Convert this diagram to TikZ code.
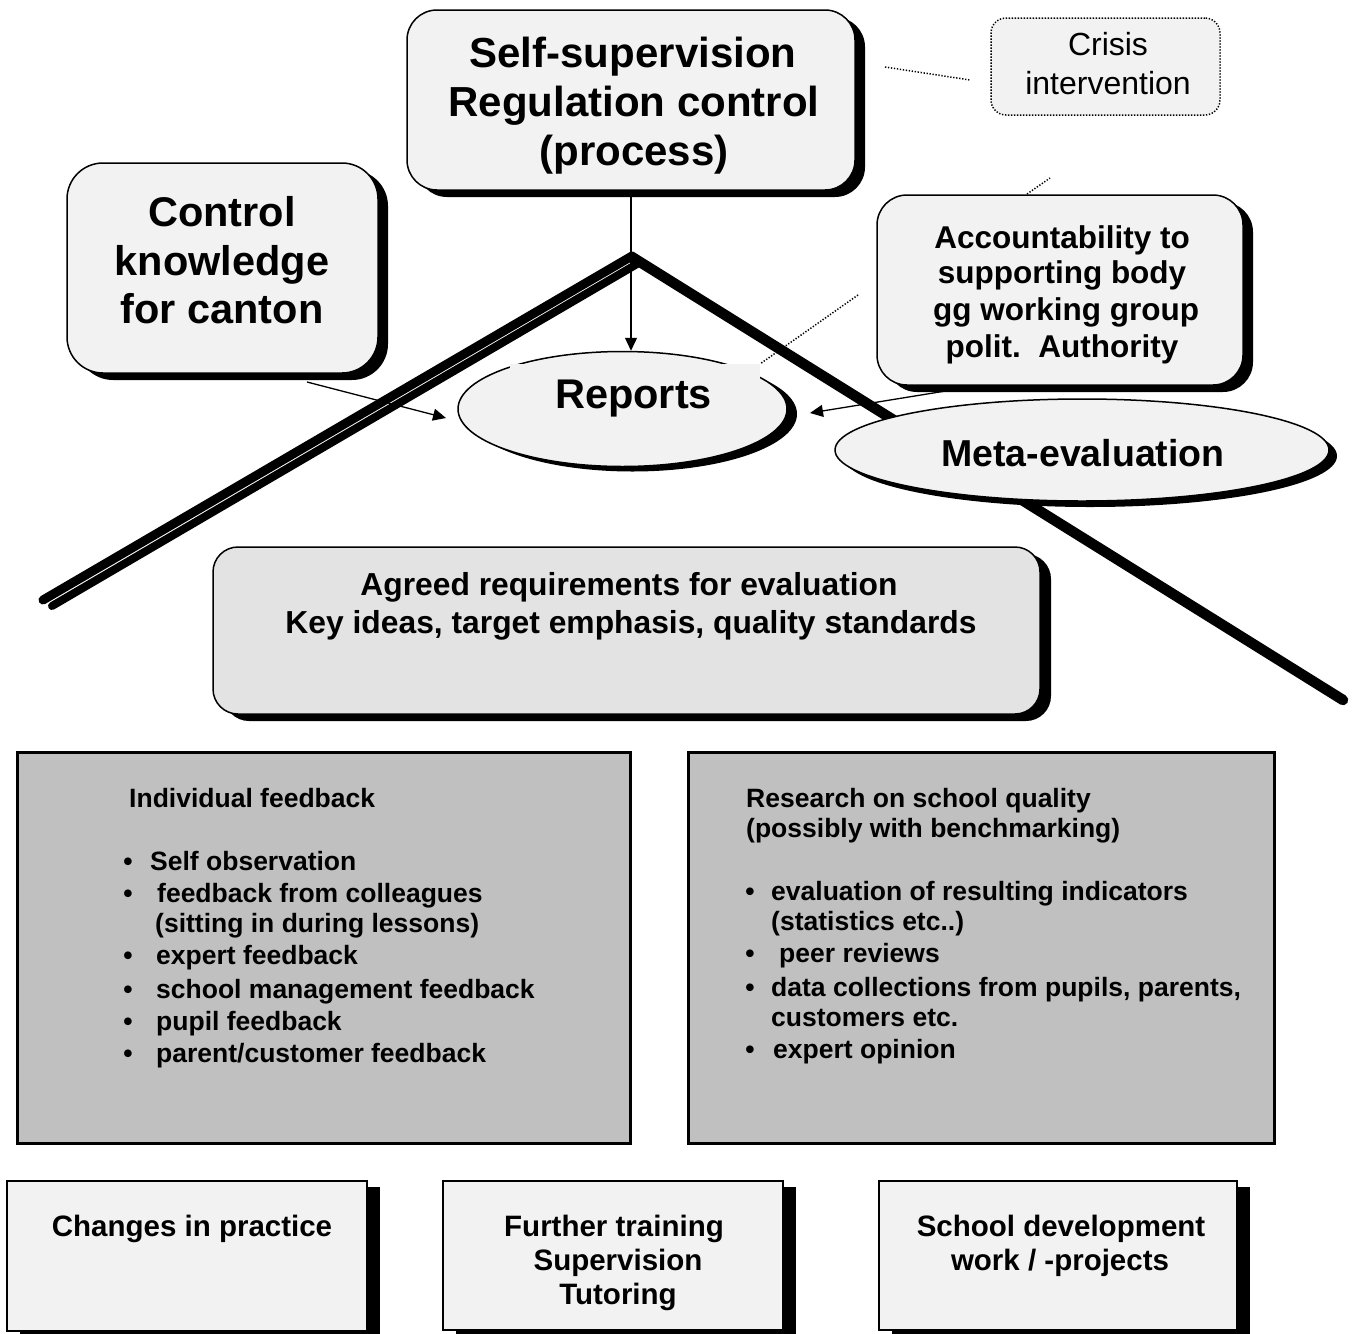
\documentclass[tikz,border=0pt]{standalone}
\usepackage{fontspec}
\setmainfont{Liberation Sans}
\usetikzlibrary{shapes.geometric,shadows,arrows.meta}
\definecolor{lightfill}{HTML}{F2F2F2}
\definecolor{midfill}{HTML}{E3E3E3}
\definecolor{grayfill}{HTML}{C0C0C0}
\begin{document}
\begin{tikzpicture}[x=1pt,y=-1pt,
  lbl/.style={inner sep=0pt,anchor=base},
  lblw/.style={inner sep=0pt,anchor=base west},
  rbox/.style={draw=black,line width=1.5pt,fill=lightfill,inner sep=0pt},
  shad/.style={drop shadow={shadow xshift=10pt,shadow yshift=-7pt,opacity=1,fill=black}},
  sqshad/.style={drop shadow={shadow xshift=13pt,shadow yshift=-6pt,opacity=1,fill=black}},
  ell/.style={ellipse,draw=black,line width=1.5pt,fill=lightfill,inner sep=0pt},
  graybox/.style={draw=black,line width=3pt,fill=grayfill,inner sep=0pt},
  sqbox/.style={draw=black,line width=2pt,fill=lightfill,inner sep=0pt,sqshad},
  dotline/.style={line width=1.5pt,dash pattern=on 1.3pt off 1.7pt},
  arr/.style={line width=1.3pt,-{Triangle[length=13pt,width=12pt]}},
  ftop/.style={font=\fontsize{42}{48}\selectfont\bfseries},
  fctl/.style={font=\fontsize{41.5}{48}\selectfont\bfseries},
  facc/.style={font=\fontsize{31.5}{36}\selectfont\bfseries},
  fcri/.style={font=\fontsize{32}{36}\selectfont},
  frep/.style={font=\fontsize{41.5}{48}\selectfont\bfseries},
  fmeta/.style={font=\fontsize{37.5}{42}\selectfont\bfseries},
  fagr/.style={font=\fontsize{31.8}{36}\selectfont\bfseries},
  fgray/.style={font=\fontsize{26.5}{30}\selectfont\bfseries},
  fbot/.style={font=\fontsize{29.5}{34}\selectfont\bfseries}]
\useasboundingbox (0,0) rectangle (1356,1333);

% roof
\draw[line width=8pt,line cap=round] (637,264) -- (52,606);
\draw[line width=9pt,line cap=round] (43,600) -- (632,256);
\draw[line width=10.5pt,line cap=round] (632,257) -- (1343,700);

% upper boxes
\node[rbox,shad,rounded corners=30pt,minimum width=448pt,minimum height=180pt] (top) at (631,100) {};
\node[lbl,ftop] (top1) at (633,67) {Self-supervision};
\node[lbl,ftop] (top2) at (634,116) {Regulation control};
\node[lbl,ftop] (top3) at (634,165) {(process)};

\node[rbox,shad,rounded corners=36pt,minimum width=311pt,minimum height=210pt] (ctl) at (222.5,268) {};
\node[lbl,fctl] (ctl1) at (222,226) {Control};
\node[lbl,fctl] (ctl2) at (222,275) {knowledge};
\node[lbl,fctl] (ctl3) at (222,323) {for canton};

\node[rbox,shad,rounded corners=30pt,minimum width=366pt,minimum height=190pt] (acc) at (1060,290) {};
\node[lbl,facc] (acc1) at (1062,248) {Accountability to};
\node[lbl,facc] (acc2) at (1062,283) {supporting body};
\node[lbl,facc] (acc3) at (1066,320) {gg working group};
\node[lbl,facc] (acc4) at (1062,357) {polit.~~Authority};

\node[draw=black,dotline,fill=lightfill,rounded corners=15pt,minimum width=229pt,minimum height=97pt,inner sep=0pt] (cri) at (1105.5,66.5) {};
\node[lbl,fcri] (cri1) at (1108,55) {Crisis};
\node[lbl,fcri] (cri2) at (1108,94) {intervention};

% reports
\node[ell,drop shadow={shadow xshift=10pt,shadow yshift=-5pt,opacity=1,fill=black},minimum width=329pt,minimum height=115pt] (rep) at (622.5,409) {};
\node[fill=lightfill,inner sep=0pt,minimum width=250pt,minimum height=56pt] (repbg) at (635,392) {};
\node[lbl,frep] (rept) at (633.5,408) {Reports};

% meta-evaluation
\node[ell,drop shadow={shadow xshift=8pt,shadow yshift=-6pt,opacity=1,fill=black},minimum width=494pt,minimum height=102pt] (meta) at (1082,450) {};
\node[lbl,fmeta] (metat) at (1083,466) {Meta-evaluation};

% connectors
\draw[arr] (top.south) -- (top.south |- rep.north);
\coordinate (cs) at (307,382);
\coordinate (ce) at (446,418);
\draw[arr] (cs) -- (ce);
\coordinate (as) at (958,389);
\coordinate (ae) at (810,413);
\draw[arr] (as) -- (ae);
\coordinate (d1a) at (885,67);
\coordinate (d1b) at (970,80);
\draw[dotline] (d1a) -- (d1b);
\coordinate (d2a) at (1027,194);
\coordinate (d2b) at (1050,178);
\draw[dotline] (d2a) -- (d2b);
\coordinate (d3a) at (858,295);
\draw[dotline] (d3a) -- (repbg.north east);

% agreed requirements
\node[draw=black,line width=1.5pt,fill=midfill,inner sep=0pt,rounded corners=25pt,drop shadow={shadow xshift=11pt,shadow yshift=-7pt,opacity=1,fill=black},minimum width=827pt,minimum height=167pt] (agr) at (626.5,630.5) {};
\node[lbl,fagr] (agr1) at (629,595) {Agreed requirements for evaluation};
\node[lbl,fagr] (agr2) at (631,633) {Key ideas, target emphasis, quality standards};

% gray boxes
\node[graybox,minimum width=613pt,minimum height=391pt] (ind) at (323.5,947.5) {};
\node[lblw,fgray] (ind0) at (129,807) {Individual feedback};
\node[lbl,fgray] (ib1) at (128,870) {•};
\node[lblw,fgray] (ind1) at (150,870) {Self observation};
\node[lbl,fgray] (ib2) at (128,902) {•};
\node[lblw,fgray] (ind2) at (157,902) {feedback from colleagues};
\node[lblw,fgray] (ind2b) at (155,932) {(sitting in during lessons)};
\node[lbl,fgray] (ib3) at (128,964) {•};
\node[lblw,fgray] (ind3) at (156,964) {expert feedback};
\node[lbl,fgray] (ib4) at (128,998) {•};
\node[lblw,fgray] (ind4) at (156,998) {school management feedback};
\node[lbl,fgray] (ib5) at (128,1030) {•};
\node[lblw,fgray] (ind5) at (156,1030) {pupil feedback};
\node[lbl,fgray] (ib6) at (128,1062) {•};
\node[lblw,fgray] (ind6) at (156,1062) {parent/customer feedback};

\node[graybox,minimum width=586pt,minimum height=391pt] (res) at (981,947.5) {};
\node[lblw,fgray] (res0) at (746,807) {Research on school quality};
\node[lblw,fgray] (res0b) at (746,837) {(possibly with benchmarking)};
\node[lbl,fgray] (rb1) at (750,900) {•};
\node[lblw,fgray] (res1) at (771,900) {evaluation of resulting indicators};
\node[lblw,fgray] (res1b) at (771,930) {(statistics etc..)};
\node[lbl,fgray] (rb2) at (750,962) {•};
\node[lblw,fgray] (res2) at (779,962) {peer reviews};
\node[lbl,fgray] (rb3) at (750,996) {•};
\node[lblw,fgray] (res3) at (771,996) {data collections from pupils, parents,};
\node[lblw,fgray] (res3b) at (771,1026) {customers etc.};
\node[lbl,fgray] (rb4) at (750,1058) {•};
\node[lblw,fgray] (res4) at (773,1058) {expert opinion};

% bottom boxes
\node[sqbox,minimum width=360pt,minimum height=150pt] (chg) at (187,1256) {};
\node[lbl,fbot] (chg1) at (192,1236) {Changes in practice};
\node[sqbox,minimum width=340pt,minimum height=149pt] (ftr) at (613,1255.5) {};
\node[lbl,fbot] (ftr1) at (614,1236) {Further training};
\node[lbl,fbot] (ftr2) at (618,1270) {Supervision};
\node[lbl,fbot] (ftr3) at (618,1304) {Tutoring};
\node[sqbox,minimum width=358pt,minimum height=149pt] (sdv) at (1058,1255.5) {};
\node[lbl,fbot] (sdv1) at (1061,1236) {School development};
\node[lbl,fbot] (sdv2) at (1060,1270) {work / -projects};
\end{tikzpicture}
\end{document}
